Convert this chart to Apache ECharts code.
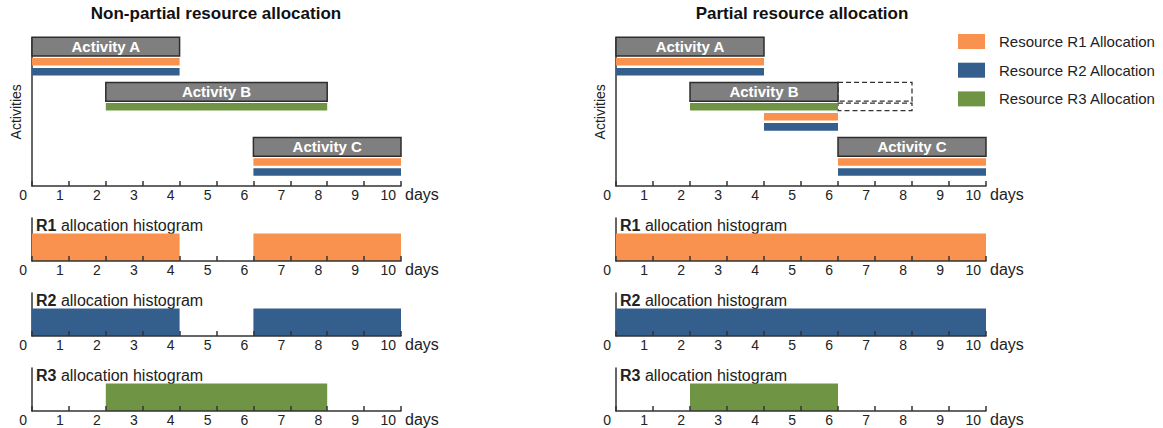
<!DOCTYPE html>
<html><head><meta charset="utf-8">
<script src="https://cdn.jsdelivr.net/npm/echarts@6/dist/echarts.min.js"></script>
<style>html,body{margin:0;padding:0;background:#fff}#c{width:1163px;height:428px}</style>
</head><body><div id="c"></div>
<script>
// ---------- data ----------
const dayTicks = ['0','1','2','3','4','5','6','7','8','9','10'];
const panelTitles = ['Non-partial resource allocation', 'Partial resource allocation'];
const resources = ['Resource R1 Allocation','Resource R2 Allocation','Resource R3 Allocation'];
const resourceShort = ['R1','R2','R3'];
const resourceColors = ['#F9924F','#345E8C','#6F9444'];
const activities = ['Activity A','Activity B','Activity C'];
const activityLane = [0, 4.5, 10];
// non-partial allocation: [start, end, lane]
const npStart = [0, 2, 6];
const npEnd = [4, 8, 10];
const npR1 = [[0,4,1.5],[6,10,11.5]];
const npR2 = [[0,4,2.5],[6,10,12.5]];
const npR3 = [[2,8,6]];
// partial allocation
const pStart = [0, 2, 6];
const pEnd = [4, 6, 10];
const pR1 = [[0,4,1.5],[4,6,7],[6,10,11.5]];
const pR2 = [[0,4,2.5],[4,6,8],[6,10,12.5]];
const pR3 = [[2,6,6]];
const pPlannedBox = [[6,8,4.5]];
const pPlannedBar = [[6,8,6]];

// ---------- helpers ----------
const FONT = '"Liberation Sans", Arial, sans-serif';
const AX = '#333';
// daily usage counts, merged into runs of equal level
function hist(allocs){
  const out = [];
  let cur = null;
  for (let d = 0; d < 10; d++){
    let c = 0;
    allocs.forEach(a => { if (a[0] <= d && a[1] >= d + 1) c++; });
    if (cur && cur[2] === c && cur[1] === d) { cur[1] = d + 1; }
    else { if (cur && cur[2] > 0) out.push(cur); cur = [d, d + 1, c]; }
  }
  if (cur && cur[2] > 0) out.push(cur);
  return out;
}
function laneRect(h, extra){
  return function(params, api){
    const s = api.coord([api.value(0), api.value(2)]);
    const e = api.coord([api.value(1), api.value(2)]);
    const hh = api.size([0, h])[1];
    const el = {type:'rect', shape:{x:s[0], y:s[1]-hh/2, width:e[0]-s[0], height:hh}, style: api.style()};
    if (extra) extra(el, params, api);
    return el;
  };
}
function histRect(params, api){
  const a = api.coord([api.value(0), api.value(2)]);
  const b = api.coord([api.value(1), 0]);
  return {type:'rect', shape:{x:a[0], y:a[1], width:b[0]-a[0], height:b[1]-a[1]}, style: api.style()};
}
function xAx(gi){
  return {gridIndex:gi, type:'value', min:0, max:10, interval:1, z:5,
    axisLine:{show:true, onZero:false, lineStyle:{color:AX, width:1.5}},
    axisTick:{show:true, inside:true, length:5, lineStyle:{color:AX, width:1.5}},
    splitLine:{show:false},
    axisLabel:{show:true, formatter:v => dayTicks[v], align:'right', margin:2, padding:[0,5,0,0],
      color:'#222', fontSize:14, fontFamily:FONT, hideOverlap:false},
    name:'days', nameLocation:'end', nameGap:4,
    nameTextStyle:{fontSize:16, color:'#222', fontFamily:FONT, verticalAlign:'top', padding:[0,0,0,0]}};
}
function yGantt(gi){
  return {gridIndex:gi, type:'value', inverse:true, min:-0.9, max:13.9,
    axisLine:{show:true, onZero:false, lineStyle:{color:AX, width:1.5}},
    axisTick:{show:false}, axisLabel:{show:false}, splitLine:{show:false},
    name:'Activities', nameLocation:'middle', nameGap:9, nameRotate:90,
    nameTextStyle:{fontSize:14, color:'#222', fontFamily:FONT}};
}
function yHist(gi){
  return {gridIndex:gi, type:'value', min:0, max:1.56,
    axisLine:{show:true, onZero:false, lineStyle:{color:AX, width:1.5}},
    axisTick:{show:false}, axisLabel:{show:false}, splitLine:{show:false}};
}

const panelLeft = [32, 616];
const panelWidth = [369, 370];
const histTop = [218, 293, 368];
const grids = [], xAxes = [], yAxes = [];
for (let p = 0; p < 2; p++){
  grids.push({left:panelLeft[p], width:panelWidth[p], top:37.7, height:148.3});
}
for (let p = 0; p < 2; p++){
  for (let r = 0; r < 3; r++) grids.push({left:panelLeft[p], width:panelWidth[p], top:histTop[r], height:43});
}
grids.forEach((g, i) => { xAxes.push(xAx(i)); yAxes.push(i < 2 ? yGantt(i) : yHist(i)); });

const series = [];
const panels = [
  {start:npStart, end:npEnd, res:[npR1,npR2,npR3]},
  {start:pStart, end:pEnd, res:[pR1,pR2,pR3], plannedBox:pPlannedBox, plannedBar:pPlannedBar}
];
const dashStyle = {fill:'none', stroke:'#333', lineWidth:1.3, lineDash:[5,3]};
panels.forEach((pn, p) => {
  if (pn.plannedBox){
    series.push({type:'custom', xAxisIndex:p, yAxisIndex:p, silent:true, data:pn.plannedBox,
      renderItem:(params, api) => { const el = laneRect(1.87)(params, api); el.style = dashStyle; return el; }});
    series.push({type:'custom', xAxisIndex:p, yAxisIndex:p, silent:true, data:pn.plannedBar,
      renderItem:(params, api) => { const el = laneRect(0.75)(params, api); el.style = dashStyle; return el; }});
  }
  series.push({type:'custom', xAxisIndex:p, yAxisIndex:p, silent:true,
    data: activities.map((a, i) => [pn.start[i], pn.end[i], activityLane[i], i]),
    renderItem: laneRect(1.87, (el, params, api) => {
      el.style = {fill:'#7f7f7f', stroke:'#2e2e2e', lineWidth:1.5};
      el.textContent = {style:{text:activities[api.value(3)], fill:'#fff', font:'bold 15px ' + FONT}};
      el.textConfig = {position:'inside'};
    })});
  pn.res.forEach((arr, r) => {
    series.push({type:'custom', name:resources[r], xAxisIndex:p, yAxisIndex:p, silent:true,
      itemStyle:{color:resourceColors[r]}, data:arr, renderItem:laneRect(0.75)});
    const gi = 2 + p * 3 + r;
    series.push({type:'custom', name:resources[r], xAxisIndex:gi, yAxisIndex:gi, silent:true,
      itemStyle:{color:resourceColors[r]}, data:hist(arr), renderItem:histRect});
  });
});

const graphics = [];
const titleCenter = [216, 802];
panelTitles.forEach((t, p) => {
  graphics.push({type:'text', x:titleCenter[p], y:13, style:{text:t, align:'center', verticalAlign:'middle',
    font:'bold 17px ' + FONT, fill:'#111'}});
  for (let r = 0; r < 3; r++){
    graphics.push({type:'text', x:panelLeft[p] + 4, y:histTop[r] + 7, style:{
      text:'{b|' + resourceShort[r] + '} allocation histogram', align:'left', verticalAlign:'middle',
      font:'16px ' + FONT, fill:'#222', rich:{b:{fontWeight:'bold', fontSize:16, fontFamily:FONT, fill:'#222'}}}});
  }
});

const chart = echarts.init(document.getElementById('c'), null, {renderer:'svg'});
chart.setOption({
  animation:false,
  backgroundColor:'#fff',
  grid:grids, xAxis:xAxes, yAxis:yAxes, series:series,
  legend:{data:resources, orient:'vertical', left:958, top:34, padding:0, itemWidth:27, itemHeight:15, itemGap:13.7,
    icon:'rect', selectedMode:false,
    textStyle:{fontSize:15, color:'#222', fontFamily:FONT, padding:[0,0,0,9]}},
  graphic:graphics
});
</script></body></html>
